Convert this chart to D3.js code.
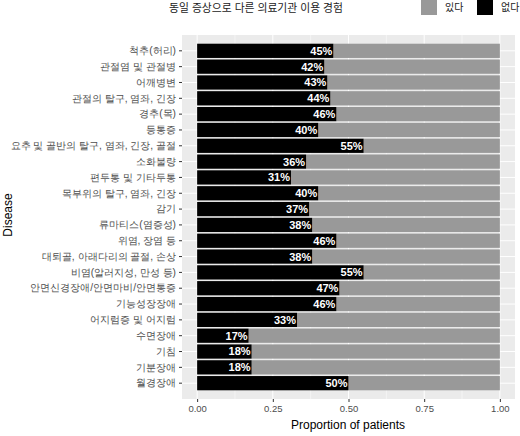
<!DOCTYPE html>
<html>
<head>
<meta charset="utf-8">
<script src="https://cdn.jsdelivr.net/npm/d3@7"></script>
<style>
  body { margin: 0; background: #fff; }
  svg { display: block; font-family: "Liberation Sans", "Noto Sans CJK KR", sans-serif; }
</style>
</head>
<body>
<svg id="chart"></svg>
<script>
const diseases = [
  "척추(허리)", "관절염 및 관절병", "어깨병변", "관절의 탈구, 염좌, 긴장", "경추(목)",
  "등통증", "요추 및 골반의 탈구, 염좌, 긴장, 골절", "소화불량", "편두통 및 기타두통",
  "목부위의 탈구, 염좌, 긴장", "감기", "류마티스(염증성)", "위염, 장염 등",
  "대퇴골, 아래다리의 골절, 손상", "비염(알러지성, 만성 등)", "안면신경장애/안면마비/안면통증",
  "기능성장장애", "어지럼증 및 어지럼", "수면장애", "기침", "기분장애", "월경장애"
];
const noShare = [0.45, 0.42, 0.43, 0.44, 0.46, 0.40, 0.55, 0.36, 0.31, 0.40, 0.37,
                 0.38, 0.46, 0.38, 0.55, 0.47, 0.46, 0.33, 0.17, 0.18, 0.18, 0.50];
const legendKeys = ["있다", "없다"];
const xTicks = [0, 0.25, 0.5, 0.75, 1];
const titleText = "동일 증상으로 다른 의료기관 이용 경험";

const width = 520, height = 436;
const panel = { left: 182, right: 515, top: 35, bottom: 399 };

const svg = d3.select("#chart").attr("width", width).attr("height", height);

const x = d3.scaleLinear().domain([-0.05, 1.05]).range([panel.left, panel.right]);
const y = d3.scaleBand().domain(diseases).range([panel.top, panel.bottom])
    .paddingInner(0.1).paddingOuter(0.55);
const color = d3.scaleOrdinal().domain(legendKeys).range(["#999999", "#000000"]);

// panel background
svg.append("rect")
    .attr("x", panel.left).attr("y", panel.top)
    .attr("width", panel.right - panel.left).attr("height", panel.bottom - panel.top)
    .attr("fill", "#ebebeb");

// grid lines
svg.append("g").selectAll("line")
    .data(xTicks.slice(0, -1).map(d => d + 0.125))
    .join("line")
    .attr("x1", d => x(d)).attr("x2", d => x(d))
    .attr("y1", panel.top).attr("y2", panel.bottom)
    .attr("stroke", "#fff").attr("stroke-width", 0.5);
svg.append("g").selectAll("line")
    .data(xTicks)
    .join("line")
    .attr("x1", d => x(d)).attr("x2", d => x(d))
    .attr("y1", panel.top).attr("y2", panel.bottom)
    .attr("stroke", "#fff").attr("stroke-width", 1);
svg.append("g").selectAll("line")
    .data(diseases)
    .join("line")
    .attr("x1", panel.left).attr("x2", panel.right)
    .attr("y1", d => y(d) + y.bandwidth() / 2).attr("y2", d => y(d) + y.bandwidth() / 2)
    .attr("stroke", "#fff").attr("stroke-width", 1);

// bars
const rows = diseases.map((d, i) => ({ disease: d, no: noShare[i] }));
const barG = svg.append("g");
barG.selectAll("rect.yes")
    .data(rows)
    .join("rect")
    .attr("class", "yes")
    .attr("x", d => x(d.no)).attr("y", d => y(d.disease))
    .attr("width", d => x(1) - x(d.no)).attr("height", y.bandwidth())
    .attr("fill", color("있다"));
barG.selectAll("rect.no")
    .data(rows)
    .join("rect")
    .attr("class", "no")
    .attr("x", x(0)).attr("y", d => y(d.disease))
    .attr("width", d => x(d.no) - x(0)).attr("height", y.bandwidth())
    .attr("fill", color("없다"));

// labels
barG.selectAll("text")
    .data(rows)
    .join("text")
    .attr("x", d => x(d.no) - 1)
    .attr("y", d => y(d.disease) + y.bandwidth() / 2)
    .attr("dy", "0.36em")
    .attr("text-anchor", "end")
    .attr("fill", "#fff")
    .attr("font-weight", "bold")
    .attr("font-size", 11)
    .text(d => Math.round(d.no * 100) + "%");

// axes
const xAxis = svg.append("g")
    .attr("transform", `translate(0,${panel.bottom})`)
    .call(d3.axisBottom(x).tickValues(xTicks).tickFormat(d3.format(".2f")).tickSize(3).tickPadding(3));
const yAxis = svg.append("g")
    .attr("transform", `translate(${panel.left},0)`)
    .call(d3.axisLeft(y).tickSize(3).tickPadding(3));
[xAxis, yAxis].forEach(a => {
    a.select(".domain").remove();
    a.selectAll(".tick line").attr("stroke", "#333");
    a.selectAll(".tick text").attr("fill", "#4d4d4d");
});
xAxis.selectAll(".tick text").attr("font-size", 9.5);
yAxis.selectAll(".tick text").attr("font-size", 10.2);

svg.append("text")
    .attr("x", 348).attr("y", 429)
    .attr("text-anchor", "middle").attr("font-size", 12)
    .text("Proportion of patients");
svg.append("text")
    .attr("transform", `translate(12,215) rotate(-90)`)
    .attr("text-anchor", "middle").attr("font-size", 12)
    .text("Disease");

// title and legend
svg.append("text")
    .attr("x", 256).attr("y", 12)
    .attr("text-anchor", "middle").attr("font-size", 10.8).attr("fill", "#222")
    .text(titleText);

const legend = svg.append("g").selectAll("g")
    .data(legendKeys)
    .join("g")
    .attr("transform", (d, i) => `translate(${421 + i * 56},0)`);
legend.append("rect")
    .attr("x", 0).attr("y", 0).attr("width", 16).attr("height", 15)
    .attr("fill", d => color(d));
legend.append("text")
    .attr("x", 24).attr("y", 11)
    .attr("font-size", 10).attr("fill", "#222")
    .text(d => d);
</script>
</body>
</html>
